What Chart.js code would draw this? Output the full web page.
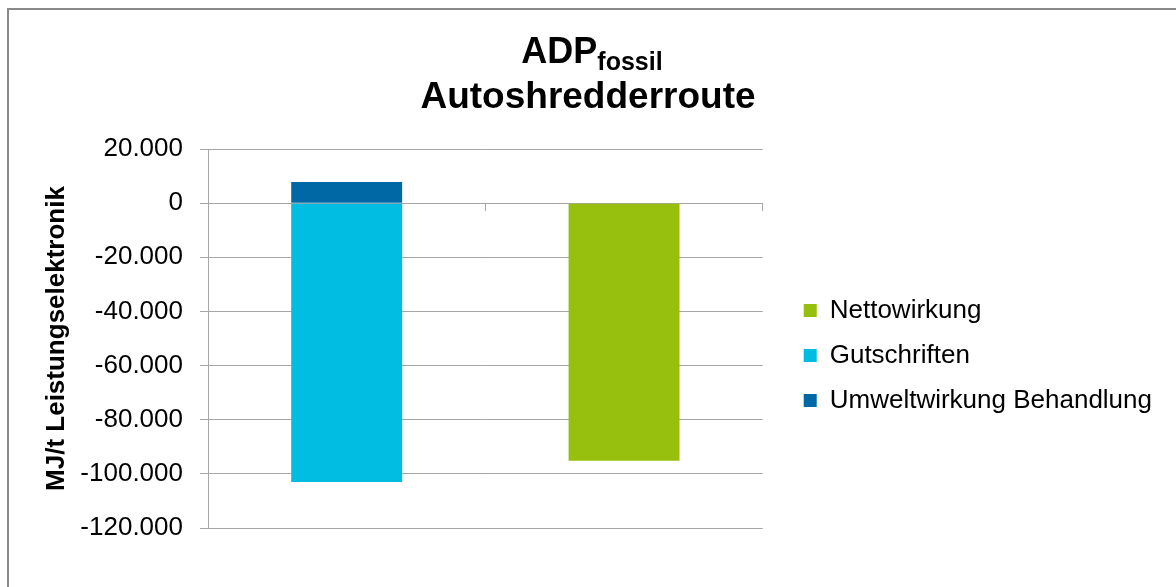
<!DOCTYPE html>
<html>
<head>
<meta charset="utf-8">
<script src="https://cdn.jsdelivr.net/npm/chart.js@4"></script>
<style>
  html, body { margin: 0; padding: 0; background: #fff; overflow: hidden; }
  #wrap { position: relative; width: 1176px; height: 587px; }
  #frame { position: absolute; left: 7px; top: 8px; width: 1300px; height: 700px;
           border: 2px solid #8a8a8a; pointer-events: none; }
  canvas { position: absolute; left: 0; top: 0; }
</style>
</head>
<body>
<div id="wrap">
  <canvas id="chart" width="1176" height="587"></canvas>
  <div id="frame"></div>
</div>
<script>
    // chart data
    const categories = ['Behandlung + Gutschriften', 'Netto'];
    const nettowirkung = [null, -95200];
    const gutschriften = [-103000, null];
    const umweltwirkung = [7800, null];
    const seriesNames = ['Nettowirkung', 'Gutschriften', 'Umweltwirkung Behandlung'];
    const yMin = -120000;
    const yMax = 20000;
    const yStep = 20000;

    const gridColor = '#a6a6a6';
    const fontFamily = '"Liberation Sans", Arial, sans-serif';

    // thousands separator like in the German original: 20.000
    function formatTick(value) {
      const s = Math.abs(value).toString().replace(/\B(?=(\d{3})+(?!\d))/g, '.');
      return (value < 0 ? '-' : '') + s;
    }

    // title with subscript, drawn on the canvas
    const titlePlugin = {
      id: 'subTitle',
      afterDraw(chart) {
        const ctx = chart.ctx;
        const cx = chart.width / 2;
        ctx.save();
        ctx.fillStyle = '#000';
        ctx.textBaseline = 'alphabetic';
        ctx.textAlign = 'left';
        ctx.font = 'bold 36px ' + fontFamily;
        const w1 = ctx.measureText('ADP').width;
        ctx.font = 'bold 25px ' + fontFamily;
        const w2 = ctx.measureText('fossil').width;
        const x0 = cx - (w1 + w2) / 2 + 4;
        ctx.font = 'bold 36px ' + fontFamily;
        ctx.fillText('ADP', x0, 63);
        ctx.font = 'bold 25px ' + fontFamily;
        ctx.fillText('fossil', x0 + w1, 70);
        ctx.textAlign = 'center';
        ctx.font = 'bold 37px ' + fontFamily;
        ctx.fillText('Autoshredderroute', cx, 108);
        ctx.restore();
      }
    };

    // nudge the legend block to where Excel put it
    const legendShift = {
      id: 'legendShift',
      afterLayout(chart) {
        const lg = chart.legend;
        if (!lg) return;
        lg.left += 22; lg.right += 22;
        lg.top += 17; lg.bottom += 17;
      }
    };

    const ctx = document.getElementById('chart').getContext('2d');
    new Chart(ctx, {
      type: 'bar',
      data: {
        labels: categories,
        datasets: [
          { label: seriesNames[0], data: nettowirkung, backgroundColor: '#97bf0d' },
          { label: seriesNames[1], data: gutschriften, backgroundColor: '#00bde1' },
          { label: seriesNames[2], data: umweltwirkung, backgroundColor: '#0068a5' }
        ]
      },
      options: {
        responsive: false,
        animation: false,
        layout: { padding: { left: 10, top: 149, right: 36, bottom: 59 } },
        datasets: { bar: { categoryPercentage: 1, barPercentage: 0.4, borderWidth: 0 } },
        scales: {
          x: {
            stacked: true,
            position: { y: 0 },
            offset: true,
            ticks: { display: false },
            grid: { offset: true, drawOnChartArea: false, drawTicks: true, tickLength: 7, color: gridColor },
            border: { display: true, color: gridColor, width: 1 }
          },
          y: {
            stacked: true,
            min: yMin,
            max: yMax,
            afterFit: (scale) => { scale.width = 198; },
            ticks: {
              stepSize: yStep,
              padding: 17,
              color: '#000',
              font: { family: fontFamily, size: 26 },
              callback: (v) => formatTick(v)
            },
            grid: { color: gridColor, lineWidth: 1, tickLength: 8 },
            border: { display: true, color: gridColor, width: 1 },
            title: {
              display: true,
              text: 'MJ/t Leistungselektronik',
              color: '#000',
              font: { family: fontFamily, size: 26, weight: 'bold' },
              padding: { top: 31, bottom: 0 }
            }
          }
        },
        plugins: {
          title: { display: false },
          tooltip: { enabled: false },
          legend: {
            position: 'right',
            fullSize: false,
            align: 'center',
            maxWidth: 420,
            labels: {
              boxWidth: 13,
              boxHeight: 13,
              padding: 19,
              color: '#000',
              font: { family: fontFamily, size: 26 }
            }
          }
        }
      },
      plugins: [titlePlugin, legendShift]
    });
</script>
</body>
</html>
